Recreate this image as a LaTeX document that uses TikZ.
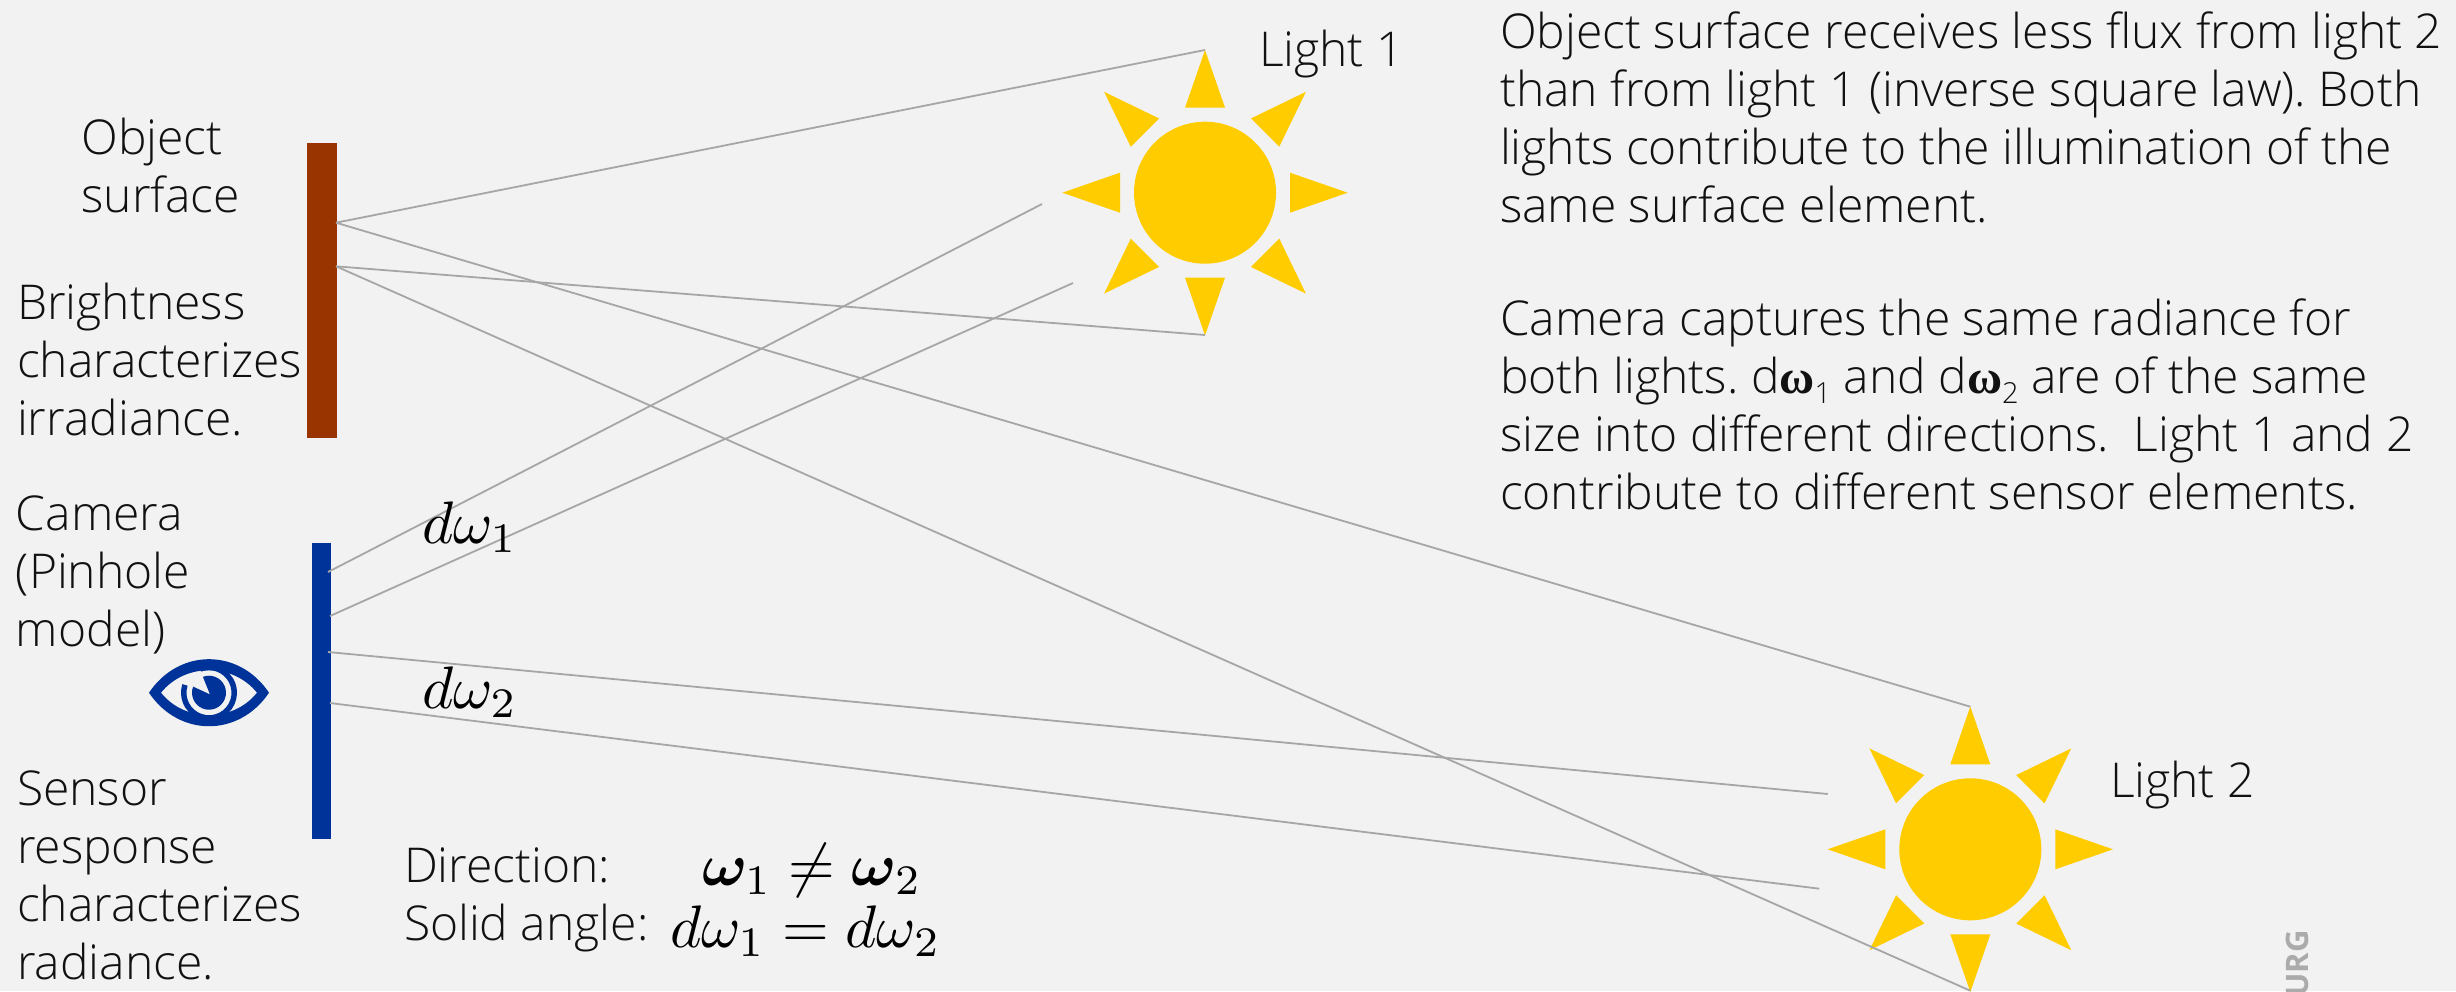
\documentclass[tikz,border=0pt]{standalone}
\usepackage{amsmath,amssymb,bm}
\usepackage{fontspec}
\setmainfont{Open Sans}[UprightFont=* Light,BoldFont=* Bold]
\newfontfamily\omegafont{Liberation Serif}[BoldFont=* Bold]
\definecolor{bgc}{HTML}{F2F2F2}
\definecolor{sunc}{HTML}{FFCC00}
\definecolor{bluec}{HTML}{003399}
\definecolor{brownc}{HTML}{993300}
\definecolor{rayc}{HTML}{A6A6A6}
\definecolor{logoc}{HTML}{ABABAB}
\definecolor{textc}{HTML}{111111}
\newcommand{\bomega}{{\omegafont\bfseries\char"03C9}}
\newcommand{\subone}[1]{\raisebox{-0.22em}{\fontsize{29}{29}\selectfont #1}}
\tikzset{
  x=1pt,y=-1pt,
  txt/.style={anchor=base west,inner sep=0pt,outer sep=0pt,align=left,text=textc,font=\fontsize{48}{58}\selectfont\frenchspacing},
  mathlabel/.style={anchor=base west,inner sep=0pt,outer sep=0pt,text=black,scale=6},
  ray/.style={draw=rayc,line width=1.8pt},
  sunray/.style={fill=sunc,draw=none},
  sunbody/.style={circle,fill=sunc,draw=none,inner sep=0pt,minimum size=142pt},
  barbox/.style={draw=none,inner sep=0pt,anchor=north west,minimum width=#1},
}
\newcommand{\sunrays}[2]{%
  \foreach \a in {0,45,...,315}{
    \fill[sunray,shift={(#1,#2)},rotate=\a] (0,-142.7) -- (20,-85) -- (-20,-85) -- cycle;
  }%
}
\begin{document}
\begin{tikzpicture}
\path[fill=bgc,use as bounding box] (0,0) rectangle (2456,991);

% bars
\node[barbox=30pt,minimum height=295pt,fill=brownc] (surface) at (307,143) {};
\node[barbox=19pt,minimum height=296pt,fill=bluec] (sensor) at (312,543) {};

% suns
\sunrays{1205}{192.7}
\node[sunbody] (sunA) at (1205,192.7) {};
\sunrays{1970.3}{849.3}
\node[sunbody] (sunB) at (1970.3,849.3) {};

% ray end points
\coordinate (sA) at (336,222.7);
\coordinate (sB) at (336,266.3);
\coordinate (aTop) at (1205,50);
\coordinate (aBot) at (1205,335);
\coordinate (bTop) at (1970.3,706.7);
\coordinate (bBot) at (1970.3,990.7);
\coordinate (c1) at (328,572);
\coordinate (c2) at (330,616);
\coordinate (c3) at (328,652);
\coordinate (c4) at (330,703);
\coordinate (e1) at (1042,204);
\coordinate (e2) at (1073,283);
\coordinate (e3) at (1827.7,794);
\coordinate (e4) at (1819.3,888.7);
\draw[ray] (sA) -- (aTop);
\draw[ray] (sA) -- (bTop);
\draw[ray] (sB) -- (aBot);
\draw[ray] (sB) -- (bBot);
\draw[ray] (c1) -- (e1);
\draw[ray] (c2) -- (e2);
\draw[ray] (c3) -- (e3);
\draw[ray] (c4) -- (e4);

% eye
\begin{scope}[shift={(209,692.7)}]
  \fill[bluec,even odd rule]
    (-60,0) .. controls (-30,-44.7) and (30,-44.7) .. (60,0)
            .. controls (30,44.7) and (-30,44.7) .. (-60,0) -- cycle
    (-48,0) .. controls (-24,-30) and (24,-30) .. (48,0)
            .. controls (24,30) and (-24,30) .. (-48,0) -- cycle;
  \fill[bluec] (-110:28) arc[start angle=-110,end angle=198,radius=28] -- (198:22.5) arc[start angle=198,end angle=-110,radius=22.5] -- cycle;
  \fill[bluec] (1,1.7) -- (-159:17) arc[start angle=-159,end angle=-471,radius=17] -- cycle;
\end{scope}

% text
\node[txt] (objlabel) at (81.5,212) {Object\\surface};
\node[txt] (bright) at (17,435) {Brightness\\characterizes\\irradiance.};
\node[txt] (cam) at (16,646) {Camera\\(Pinhole\\model)};
\node[txt] (resp) at (17,979) {Sensor\\response\\characterizes\\radiance.};
\node[txt] (l1) at (1259,66.7) {Light 1};
\node[txt] (l2) at (2110,797) {Light 2};
\node[txt] (para1) at (1500,222) {Object surface receives less flux from light 2\\than from light 1 (inverse square law). Both\\lights contribute to the illumination of the\\same surface element.};
\node[txt] (para2) at (1500,509) {Camera captures the same radiance for\\both lights. d\bomega\subone{1} and d\bomega\subone{2} are of the same\\size into different directions.\ \ Light 1 and 2\\contribute to different sensor elements.};
\node[txt] (dirlabel) at (404,882) {Direction:};
\node[txt] (sollabel) at (404,940) {Solid angle:};
\node[mathlabel] (dw1) at (422,543) {$d\omega_1$};
\node[mathlabel] (dw2) at (422,708) {$d\omega_2$};
\node[mathlabel] (eq1) at (702,885) {$\bm{\omega}_1 \neq \bm{\omega}_2$};
\node[mathlabel] (eq2) at (670,947) {$d\omega_1 = d\omega_2$};
\node[anchor=base east,rotate=90,inner sep=0pt,text=logoc,font=\fontsize{31}{31}\selectfont\bfseries] (logo) at (2308,930) {URG};
\end{tikzpicture}
\end{document}
